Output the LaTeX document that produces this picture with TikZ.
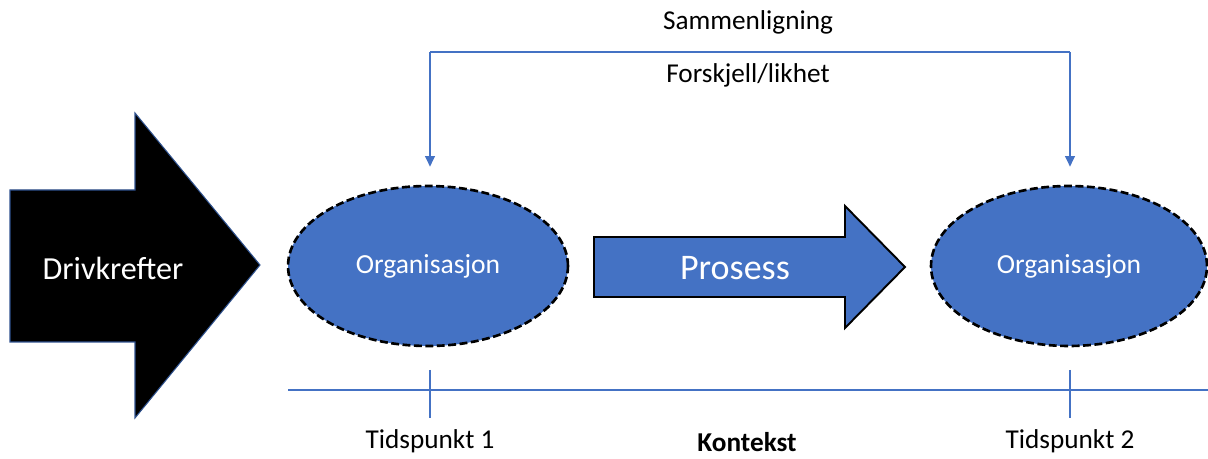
\documentclass[tikz,border=0pt]{standalone}
\usepackage{fontspec}
\setmainfont{Carlito}
\usetikzlibrary{arrows.meta,shapes.geometric}
\definecolor{officeblue}{HTML}{4472C4}
\definecolor{darkedge}{HTML}{2F528F}
\tikzset{
  orgellipse/.style={ellipse, fill=officeblue, draw=black, line width=1.5pt,
    dash pattern=on 4.5pt off 2pt, minimum width=5.6cm, minimum height=3.2cm,
    text=white, font=\fontsize{15.7}{18}\selectfont, inner sep=0pt},
  bluelink/.style={draw=officeblue, line width=0.9pt},
  bluearrow/.style={bluelink, -{Triangle[width=5.5pt,length=6pt]}},
  plainlabel/.style={font=\fontsize{15.5}{18}\selectfont, inner sep=0pt}
}
\begin{document}
\begin{tikzpicture}[x=0.02cm, y=-0.02cm]
  \useasboundingbox (0,0) rectangle (1208,459);

  % driving forces: large black block arrow
  \draw[fill=black, draw=darkedge, line width=0.6pt]
    (10,190) -- (135,190) -- (135,113) -- (260,265) -- (135,418) -- (135,342) -- (10,342) -- cycle;
  \node[text=white, font=\fontsize{18.3}{21}\selectfont, inner sep=0pt] (drivers) at (113,268) {Drivkrefter};

  % the organisation at the two points in time
  \node[orgellipse] (org1) at (428,266) {Organisasjon};
  \node[orgellipse, minimum width=5.52cm] (org2) at (1069,266) {Organisasjon};

  % process arrow between the two states
  \draw[fill=officeblue, draw=black, line width=1.1pt]
    (594,237) -- (845,237) -- (845,206) -- (905,267) -- (845,328) -- (845,297) -- (594,297) -- cycle;
  \node[text=white, font=\fontsize{20.5}{24}\selectfont, inner sep=0pt] (process) at (735,268) {Prosess};

  % comparison bracket above
  \coordinate (bl) at (430,52);
  \coordinate (br) at (1070,52);
  \draw[bluelink] (bl) -- (br);
  \draw[bluearrow, shorten >=0.36cm] (bl) -- (bl |- org1.north);
  \draw[bluearrow, shorten >=0.36cm] (br) -- (br |- org2.north);
  \node[plainlabel] (cmp) at (748,22) {Sammenligning};
  \node[plainlabel] (diff) at (748,75) {Forskjell/likhet};

  % timeline with the two time points
  \coordinate (tlstart) at (288,390);
  \coordinate (tlend) at (1208,390);
  \draw[bluelink] (tlstart) -- (tlend);
  \coordinate (t1top) at (430,370);
  \coordinate (t1bot) at (430,418);
  \coordinate (t2top) at (1070,370);
  \coordinate (t2bot) at (1070,418);
  \draw[bluelink] (t1top) -- (t1bot);
  \draw[bluelink] (t2top) -- (t2bot);
  \node[plainlabel] (time1) at (430,441) {Tidspunkt 1};
  \node[plainlabel, font=\fontsize{15.5}{18}\selectfont\bfseries] (context) at (747,442) {Kontekst};
  \node[plainlabel] (time2) at (1070,441) {Tidspunkt 2};
\end{tikzpicture}
\end{document}
